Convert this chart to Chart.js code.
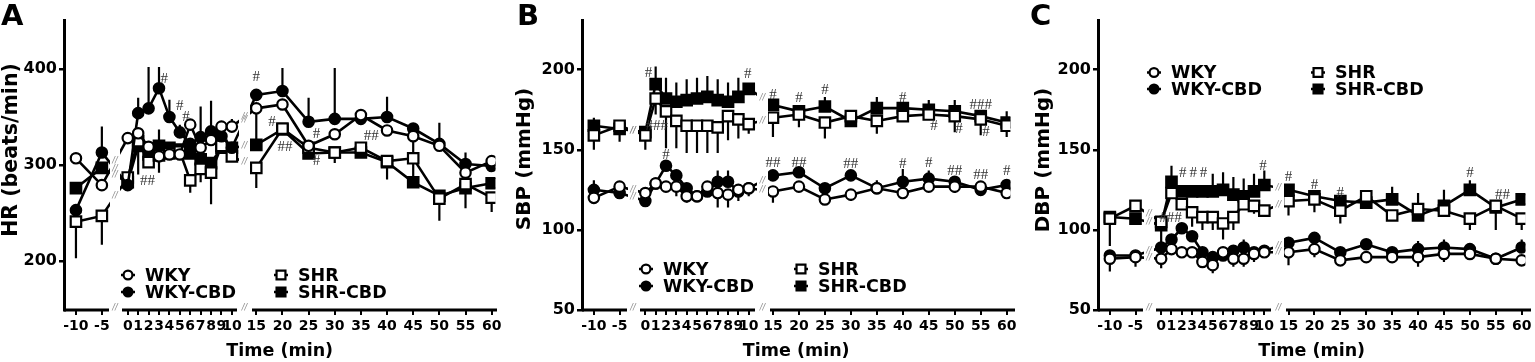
<!DOCTYPE html>
<html>
<head>
<meta charset="utf-8">
<script src="https://cdn.jsdelivr.net/npm/chart.js@4.4.1/dist/chart.umd.min.js"></script>
<style>
  html, body { margin: 0; padding: 0; background: #fff; }
  body { width: 1535px; height: 362px; position: relative; overflow: hidden; }
  .panel { position: absolute; top: 0; height: 362px; }
</style>
</head>
<body>
<div class="panel" style="left:0;width:505px"><canvas id="chart-a"></canvas></div>
<div class="panel" style="left:505px;width:515px"><canvas id="chart-b"></canvas></div>
<div class="panel" style="left:1020px;width:515px"><canvas id="chart-c"></canvas></div>
<script>
// time points (min): baseline, every minute for 10 min, then every 5 min
const times = [-10, -5, 0, 1, 2, 3, 4, 5, 6, 7, 8, 9, 10, 15, 20, 25, 30, 35, 40, 45, 50, 55, 60];
const groupNames = ["WKY", "WKY-CBD", "SHR", "SHR-CBD"];

// ===== A: heart rate (beats/min) =====
const hrTicks = [200, 300, 400];
const hrWKY     = [307, 279, 328, 333, 319, 309, 311, 311, 342, 318, 326, 340, 340, 359, 363, 320, 332, 352, 336, 330, 320, 292, 304];
const hrWKYCBD  = [253, 313, 279, 354, 359, 380, 350, 334, 322, 329, 335, 330, 318, 373, 377, 345, 348, 348, 350, 338, 322, 301, 299];
const hrSHR     = [241, 247, 287, 325, 303, 310, 312, 314, 284, 296, 292, 320, 309, 297, 338, 318, 313, 318, 304, 307, 265, 280, 266];
const hrSHRCBD  = [276, 297, 282, 320, 311, 320, 318, 316, 312, 306, 302, 318, 318, 321, 337, 312, 313, 313, 303, 282, 268, 276, 281];
// one-sided error bars: + drawn upwards, - drawn downwards
const hrWKYErr    = [0, 0, 0, 0, 0, 0, 0, 0, 0, 0, 0, 0, 8, -36, 0, 0, 0, 0, 0, -45, 0, 0, 0];
const hrWKYCBDErr = [0, 27, 0, 16, 43, 22, 18, 8, 0, 32, 32, 0, 0, 0, 24, 25, 53, 0, 21, 0, 22, 12, 0];
const hrSHRErr    = [-38, -30, 0, 0, 0, -18, 0, 0, -13, -14, -33, 0, 0, -21, 0, 0, -11, 0, -19, 0, -23, 0, -15];
const hrSHRCBDErr = [0, 0, 0, -30, 0, 17, 0, 0, 0, 0, 0, 0, 0, 0, 0, 0, 0, 0, 0, 0, 0, -21, 0];
const hrHashes = [[3.5, 390, "#"], [5.0, 361, "#"], [5.6, 350, "#"], [1.9, 283, "##"], [15, 392, "#"],
                  [18, 345, "#"], [20.5, 319, "##"], [26.5, 332, "#"], [26.5, 304, "#"], [37, 330, "##"]];

// ===== B: systolic blood pressure (mmHg) =====
const bpTicks = [50, 100, 150, 200];
const sbpWKY    = [120, 127, 123, 129, 127, 127, 121, 121, 127, 123, 122, 125, 126, 124, 127, 119, 122, 126, 123, 127, 127, 127, 123];
const sbpWKYCBD = [125, 123, 118, 129, 140, 134, 126, 121, 124, 130, 130, 124, 126, 134, 136, 126, 134, 126, 130, 132, 130, 125, 128];
const sbpSHR    = [159, 165, 159, 182, 174, 168, 165, 165, 165, 164, 171, 169, 166, 170, 172, 167, 171, 168, 171, 172, 171, 169, 165];
const sbpSHRCBD = [165, 163, 161, 191, 182, 180, 181, 182, 183, 181, 180, 183, 188, 178, 174, 177, 168, 176, 176, 175, 174, 171, 167];
const sbpWKYErr    = [-3, 0, -5, 0, 0, -6, -4, 0, 0, -9, -8, -7, -5, -7, 0, 0, -4, 0, 0, 0, -4, 0, 0];
const sbpWKYCBDErr = [6, -2, 0, 0, 0, 0, 0, 0, 0, 7, 7, 0, 0, 0, 0, 0, 0, 5, 8, 5, 0, 0, 0];
const sbpSHRErr    = [-9, 0, -9, -10, -23, -17, -17, -17, -17, -16, -15, -12, -6, -12, -8, -10, 0, -8, 0, 0, -10, -10, -7];
const sbpSHRCBDErr = [5, -8, 0, 11, 13, 12, 13, 13, 13, 13, 12, 12, 0, 0, 0, 6, 3, 7, 0, 6, 7, 0, 7];
const sbpHashes = [[0.3, 198, "#"], [1.1, 165, "###"], [2, 147, "#"], [9.9, 197, "#"], [15, 184, "#"], [20, 182, "#"],
                   [25, 187.5, "#"], [40, 182, "#"], [46, 165, "#"], [50.8, 163, "#"], [55, 178, "###"], [56, 161, "#"],
                   [15, 142, "##"], [20, 142, "##"], [30, 141, "##"], [40, 141, "#"], [45, 142, "#"],
                   [50, 136.5, "##"], [55, 134.5, "##"], [60, 136.5, "#"]];

// ===== C: diastolic blood pressure (mmHg) =====
const dbpWKY    = [82, 83, 82, 88, 86, 86, 80, 78, 86, 82, 82, 85, 86, 86, 88, 81, 83, 83, 83, 85, 85, 82, 81];
const dbpWKYCBD = [84, 84, 89, 94, 101, 96, 86, 83, 84, 87, 89, 86, 87, 92, 95, 86, 91, 86, 88, 89, 88, 82, 89];
const dbpSHR    = [107, 115, 105, 123, 116, 111, 108, 108, 104, 108, 116, 115, 112, 118, 119, 112, 121, 109, 113, 112, 107, 115, 107];
const dbpSHRCBD = [108, 107, 103, 130, 124, 124, 124, 124, 125, 122, 121, 124, 128, 125, 121, 118, 117, 119, 109, 115, 125, 114, 119];
const dbpWKYErr    = [-8, -6, -6, 0, 0, 0, 0, -5, 0, -5, -5, -5, 0, -8, -5, 0, 0, 0, -6, -5, 0, 0, 0];
const dbpWKYCBDErr = [3, 3, 0, 0, 0, 0, 0, 0, 0, 0, 5, 0, 0, 0, 0, 0, 0, 0, 5, 5, 0, 0, 5];
const dbpSHRErr    = [-17, 0, -15, 0, 0, -9, -8, -8, -10, -8, 0, -5, 0, -9, -8, -8, 0, 0, 10, 0, -7, 0, -7];
const dbpSHRCBDErr = [0, 0, 0, 10, 0, 0, 0, 11, 11, 11, 11, 11, 9, 0, 0, 0, 0, 8, 0, 10, 6, -14, 0];
const dbpHashes = [[0.9, 107.5, "###"], [2.1, 135.5, "#"], [3.1, 135.5, "#"], [4.1, 135.5, "#"], [10.1, 140, "#"],
                   [15, 133, "#"], [20, 128, "#"], [25, 123, "#"], [50, 135.5, "#"], [56.3, 122, "##"]];

// ===== broken time axis: three segments (-10..-5 | 0..10 | 15..60) =====
const AXIS_SPAN = 433;
const AXIS_SEGMENTS = [[0, 45], [58, 173], [188, 433]];
const CLIP_SEGMENTS = [[-10, 46], [56, 175], [186, 445]];
const BREAK_MARKS = [[51, times.indexOf(-5)], [180.5, times.indexOf(10)]];

function timeToPos(t) {
  if (t <= -5) return 12 + (t + 10) * 5.2;
  if (t <= 10) return 64 + t * 10.45;
  return 193 + (t - 15) * 5.25;
}

class BrokenTimeScale extends Chart.LinearScale {
  buildTicks() {
    this.start = this.min;
    this.end = this.max;
    return times.map(v => ({ value: v }));
  }
  getPixelForValue(value) {
    return this.left + timeToPos(value) * this.width / AXIS_SPAN;
  }
  getValueForPixel(pixel) {
    return -10 + (pixel - this.left) / this.width * 70;
  }
}
BrokenTimeScale.id = "brokenTime";
BrokenTimeScale.defaults = Chart.LinearScale.defaults;
Chart.register(BrokenTimeScale);

Chart.defaults.font.family = "'DejaVu Sans', sans-serif";
Chart.defaults.color = "#000";

const panels = [
  { id: "chart-a", letter: "A", letterX: 1, yTitle: "HR (beats/min)", yTitleX: 12, yTitleY: 150, yTitleSize: 20.5,
    yAxisWidth: 64, padRight: 8, yMin: 149, yMax: 451, yTicks: hrTicks,
    values: [hrWKY, hrWKYCBD, hrSHR, hrSHRCBD], errors: [hrWKYErr, hrWKYCBDErr, hrSHRErr, hrSHRCBDErr],
    hashes: hrHashes, legendX: [64, 217], legendRows: [255, 272] },
  { id: "chart-b", letter: "B", letterX: 12, yTitle: "SBP (mmHg)", yTitleX: 19.5, yTitleY: 159, yTitleSize: 20,
    yAxisWidth: 77, padRight: 5, yMin: 50, yMax: 231, yTicks: bpTicks,
    values: [sbpWKY, sbpWKYCBD, sbpSHR, sbpSHRCBD], errors: [sbpWKYErr, sbpWKYCBDErr, sbpSHRErr, sbpSHRCBDErr],
    hashes: sbpHashes, legendX: [64, 219], legendRows: [249, 266] },
  { id: "chart-c", letter: "C", letterX: 10, yTitle: "DBP (mmHg)", yTitleX: 23.5, yTitleY: 160, yTitleSize: 20,
    yAxisWidth: 78, padRight: 4, yMin: 50, yMax: 231, yTicks: bpTicks,
    values: [dbpWKY, dbpWKYCBD, dbpSHR, dbpSHRCBD], errors: [dbpWKYErr, dbpWKYCBDErr, dbpSHRErr, dbpSHRCBDErr],
    hashes: dbpHashes, legendX: [56, 220], legendRows: [52.5, 69] }
];
const panelByCanvas = {};
panels.forEach(p => { panelByCanvas[p.id] = p; });

function drawMarker(ctx, ds, x, y, scale) {
  const r = ds.pointRadius * scale;
  ctx.beginPath();
  if (ds.pointStyle === "rect") {
    const h = r * Math.SQRT1_2;
    ctx.rect(x - h, y - h, 2 * h, 2 * h);
  } else {
    ctx.arc(x, y, r, 0, Math.PI * 2);
  }
  ctx.fillStyle = ds.pointBackgroundColor;
  ctx.fill();
  ctx.lineWidth = ds.pointBorderWidth;
  ctx.strokeStyle = "#000";
  ctx.stroke();
}

// error bars, broken axis, significance marks, legend, titles
const panelDecor = {
  id: "panelDecor",
  beforeDatasetsDraw(chart) {
    const { ctx, chartArea: area } = chart;
    const xs = chart.scales.x, ys = chart.scales.y;
    ctx.save();
    ctx.beginPath();
    CLIP_SEGMENTS.forEach(([a, b]) => ctx.rect(area.left + a, 0, b - a, chart.height));
    ctx.clip();
    ctx.strokeStyle = "#000";
    ctx.lineWidth = 2.2;
    chart.data.datasets.forEach(ds => {
      ds.errors.forEach((e, i) => {
        if (!e) return;
        const px = xs.getPixelForValue(ds.data[i].x);
        ctx.beginPath();
        ctx.moveTo(px, ys.getPixelForValue(ds.data[i].y));
        ctx.lineTo(px, ys.getPixelForValue(ds.data[i].y + e));
        ctx.stroke();
      });
    });
  },
  afterDatasetsDraw(chart) {
    const { ctx, chartArea: area } = chart;
    ctx.restore();
    const p = panelByCanvas[chart.canvas.id];
    const xs = chart.scales.x, ys = chart.scales.y;

    ctx.save();
    // x axis line in three pieces
    ctx.strokeStyle = "#000";
    ctx.lineWidth = 3;
    AXIS_SEGMENTS.forEach(([a, b]) => {
      ctx.beginPath();
      ctx.moveTo(area.left + a, area.bottom);
      ctx.lineTo(area.left + b, area.bottom);
      ctx.stroke();
    });

    // "//" break marks on the axis and on each line
    ctx.fillStyle = "#8a8a8a";
    ctx.font = "italic 8px 'DejaVu Sans'";
    ctx.textAlign = "center";
    ctx.textBaseline = "middle";
    BREAK_MARKS.forEach(([gx, iFrom]) => {
      const x = area.left + gx;
      ctx.fillText("//", x, area.bottom - 2);
      chart.data.datasets.forEach((ds, d) => {
        const pts = chart.getDatasetMeta(d).data;
        const a = pts[iFrom], b = pts[iFrom + 1];
        const y = a.y + (x - a.x) / (b.x - a.x) * (b.y - a.y);
        ctx.fillText("//", x, y);
      });
    });

    // significance marks
    ctx.fillStyle = "#333";
    ctx.font = "15px 'Liberation Serif'";
    p.hashes.forEach(([t, v, label]) => {
      ctx.fillText(label, xs.getPixelForValue(t), ys.getPixelForValue(v));
    });

    // legend in two columns
    ctx.font = "bold 17.5px 'DejaVu Sans'";
    ctx.textAlign = "left";
    chart.data.datasets.forEach((ds, d) => {
      const mx = area.left + p.legendX[Math.floor(d / 2)];
      const my = area.top + p.legendRows[d % 2];
      ctx.strokeStyle = "#000";
      ctx.lineWidth = 2.5;
      ctx.beginPath();
      ctx.moveTo(mx - 7, my);
      ctx.lineTo(mx + 7, my);
      ctx.stroke();
      drawMarker(ctx, ds, mx, my, 0.85);
      ctx.fillStyle = "#000";
      ctx.fillText(ds.label, mx + 17, my + 1);
    });

    // y axis title
    ctx.save();
    ctx.translate(p.yTitleX, p.yTitleY);
    ctx.rotate(-Math.PI / 2);
    ctx.textAlign = "center";
    ctx.font = "bold " + p.yTitleSize + "px 'DejaVu Sans'";
    ctx.fillText(p.yTitle, 0, 0);
    ctx.restore();

    // panel letter
    ctx.font = "bold 29px 'DejaVu Sans'";
    ctx.textAlign = "left";
    ctx.textBaseline = "alphabetic";
    ctx.fillText(p.letter, p.letterX, 25);
    ctx.restore();
  }
};

function buildChart(p) {
  const datasets = groupNames.map((name, g) => ({
    label: name,
    data: times.map((t, i) => ({ x: t, y: p.values[g][i] })),
    errors: p.errors[g],
    borderColor: "#000",
    borderWidth: 2.6,
    pointStyle: g < 2 ? "circle" : "rect",
    pointRadius: g < 2 ? 5.2 : 7.4,
    pointBorderWidth: 2.2,
    pointBackgroundColor: g % 2 === 0 ? "#fff" : "#000",
    pointBorderColor: "#000",
    tension: 0
  }));

  new Chart(document.getElementById(p.id), {
    type: "line",
    data: { datasets },
    options: {
      responsive: true,
      maintainAspectRatio: false,
      animation: false,
      events: [],
      layout: { padding: { top: 20, right: p.padRight, bottom: 0, left: 0 } },
      plugins: { legend: { display: false }, tooltip: { enabled: false } },
      scales: {
        x: {
          type: "brokenTime",
          min: -11,
          max: 61,
          border: { display: false },
          grid: { drawOnChartArea: false, drawTicks: true, tickLength: 5, lineWidth: 2, color: "#000" },
          ticks: { autoSkip: false, maxRotation: 0, minRotation: 0, padding: 3, color: "#000",
                   font: { size: 14, weight: "bold" }, callback: v => v },
          title: { display: true, text: "Time (min)", color: "#000", padding: 0,
                   font: { size: 17.5, weight: "bold" } },
          afterFit: s => { s.height = 52; s.paddingLeft = 0; s.paddingRight = 0; }
        },
        y: {
          min: p.yMin,
          max: p.yMax,
          afterBuildTicks: s => { s.ticks = p.yTicks.map(v => ({ value: v })); },
          border: { display: true, color: "#000", width: 3 },
          grid: { drawOnChartArea: false, drawTicks: true, tickLength: 5, lineWidth: 2.5, color: "#000" },
          ticks: { padding: 2, color: "#000", font: { size: 16, weight: "bold" } },
          afterFit: s => { s.width = p.yAxisWidth; s.paddingTop = 0; s.paddingBottom = 0; }
        }
      }
    },
    plugins: [panelDecor]
  });
}

panels.forEach(buildChart);
</script>
</body>
</html>
